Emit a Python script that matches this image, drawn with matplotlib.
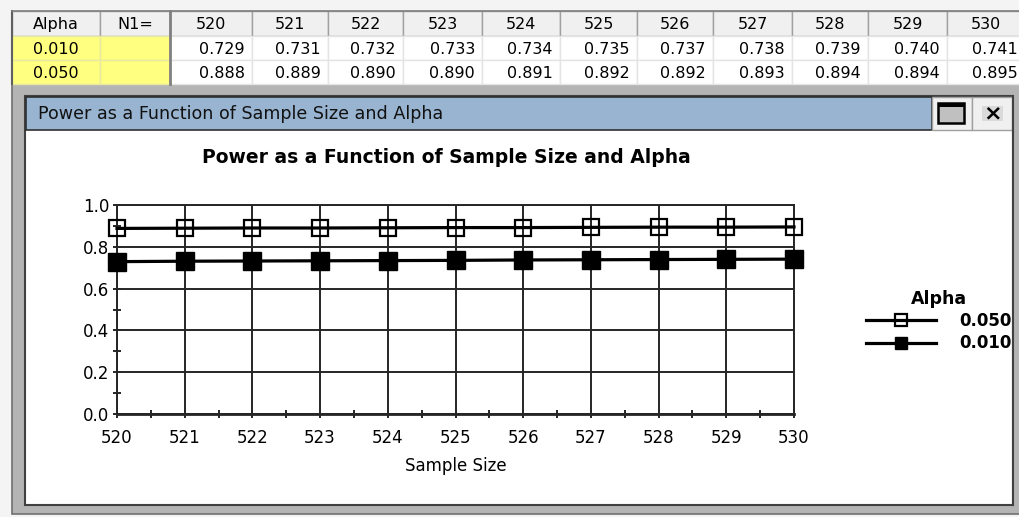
import matplotlib.pyplot as plt
from matplotlib.patches import Rectangle
from matplotlib.ticker import MultipleLocator
import numpy as np

plt.rcParams['font.family'] = ['DejaVu Sans']

sample_size = [520, 521, 522, 523, 524, 525, 526, 527, 528, 529, 530]
power_010 = [0.729, 0.731, 0.732, 0.733, 0.734, 0.735, 0.737, 0.738, 0.739, 0.740, 0.741]
power_050 = [0.888, 0.889, 0.890, 0.890, 0.891, 0.892, 0.892, 0.893, 0.894, 0.894, 0.895]
alpha_labels = ['0.010', '0.050']
y_ticks = [0.0, 0.2, 0.4, 0.6, 0.8, 1.0]
title = 'Power as a Function of Sample Size and Alpha'

W, H = 1019, 517
fig = plt.figure(figsize=(W / 100, H / 100), dpi=100)

# pixel-space background axes for the window chrome and the grid table
bg = fig.add_axes([0, 0, 1, 1])
bg.set_xlim(0, W)
bg.set_ylim(H, 0)
bg.axis('off')


def box(x0, y0, x1, y1, fc, ec='none', lw=1.0, z=1):
    bg.add_patch(Rectangle((x0, y0), x1 - x0, y1 - y0, facecolor=fc,
                           edgecolor=ec, linewidth=lw, zorder=z))


box(0, 0, W, H, '#f4f4f4', z=0)
box(12, 84, W + 5, 514, '#b4b4b4', ec='#707070', lw=1.2)

# table
col_edges = [12, 100, 170, 252, 328, 403, 482, 560, 637, 713, 792, 868, 947, 1025]
row_edges = [11, 36, 60, 84]
headers = ['Alpha', 'N1='] + [str(n) for n in sample_size]
rows = [power_010, power_050]
for j, h in enumerate(headers):
    x0, x1 = col_edges[j], col_edges[j + 1]
    box(x0, row_edges[0], x1, row_edges[1], '#f0f0f0', ec='#a0a0a0', lw=1.0)
    bg.text((x0 + x1) / 2, (row_edges[0] + row_edges[1]) / 2 + 1, h,
            ha='center', va='center', fontsize=11.5, color='black', zorder=3)
for i, (lab, vals) in enumerate(zip(alpha_labels, rows)):
    y0, y1 = row_edges[i + 1], row_edges[i + 2]
    box(col_edges[0], y0, col_edges[1], y1, '#ffff80', ec='#e8e8a0', lw=1.0)
    box(col_edges[1], y0, col_edges[2], y1, '#ffff80', ec='#e8e8a0', lw=1.0)
    bg.text((col_edges[0] + col_edges[1]) / 2, (y0 + y1) / 2 + 1, lab,
            ha='center', va='center', fontsize=11.5, zorder=3)
    for j, v in enumerate(vals):
        x0, x1 = col_edges[j + 2], col_edges[j + 3]
        box(x0, y0, x1, y1, 'white', ec='#e4e4e4', lw=1.0)
        bg.text(x1 - 7, (y0 + y1) / 2 + 1, f'{v:.3f}',
                ha='right', va='center', fontsize=11.5, zorder=3)
bg.plot([170, 170], [11, 84], color='#808080', lw=2, zorder=4)
bg.plot([12, 12], [11, 84], color='#606060', lw=1.5, zorder=4)
bg.plot([12, W], [11, 11], color='#808080', lw=1.2, zorder=4)

# chart window
box(25, 96, 1013, 505, 'white', ec='#404040', lw=1.5, z=2)
box(26, 97, 932, 130, '#99b4d1', ec='#303030', lw=1.2, z=3)
bg.text(38, 114, title, ha='left', va='center', fontsize=12.6, color='#111111', zorder=4)
box(932, 97, 972, 130, '#f0f0f0', ec='#a0a0a0', lw=1.0, z=3)
box(938, 103, 964, 123, '#c0c0c0', ec='black', lw=1.8, z=4)
box(938, 103, 964, 107, 'black', z=5)
box(972, 97, 1012, 130, '#f0f0f0', ec='#a0a0a0', lw=1.0, z=3)
box(982, 106, 1003, 121, '#dadada', z=4)
bg.text(992.5, 113.5, '\u00d7', ha='center', va='center', fontsize=16,
        fontweight='bold', color='black', zorder=5)

fig.text(446 / W, 1 - 158 / H, title, ha='center', va='center',
         fontsize=13.5, fontweight='bold')

# chart
L, R, T, B = 117, 794, 205, 414
ax = fig.add_axes([L / W, 1 - B / H, (R - L) / W, (B - T) / H])
ax.set_facecolor('none')
line050, = ax.plot(sample_size, power_050, color='black', lw=2.3, marker='s',
                   markersize=12, markerfacecolor='none', markeredgewidth=1.6,
                   clip_on=False, zorder=3, label='0.050')
line010, = ax.plot(sample_size, power_010, color='black', lw=2.3, marker='s',
                   markersize=13, markerfacecolor='black', clip_on=False,
                   zorder=3, label='0.010')
ax.set_xlim(sample_size[0], sample_size[-1])
ax.set_ylim(0, 1)
ax.set_xticks(sample_size)
ax.set_yticks(y_ticks)
ax.set_yticklabels([f'{t:.1f}' for t in y_ticks])
ax.xaxis.set_minor_locator(MultipleLocator(0.5))
ax.yaxis.set_minor_locator(MultipleLocator(0.1))
ax.grid(True, which='major', color='#262626', lw=1.4)
ax.tick_params(which='both', direction='inout', length=6, width=1.4,
               color='#262626', labelsize=12)
ax.tick_params(axis='x', pad=8)
ax.tick_params(axis='y', pad=2.5)
for s in ax.spines.values():
    s.set_color('#262626')
    s.set_linewidth(1.4)
ax.spines['bottom'].set_linewidth(2)
ax.set_xlabel('Sample Size', fontsize=12, labelpad=7)

leg = bg.legend(handles=[line050, line010], title='Alpha', loc='upper left',
                bbox_to_anchor=(866, 290), bbox_transform=bg.transData,
                frameon=False, borderpad=0, borderaxespad=0, handlelength=4.2,
                handletextpad=1.4, labelspacing=0.25, markerscale=0.7,
                prop={'weight': 'bold', 'size': 12},
                title_fontproperties={'weight': 'bold', 'size': 12.5})
leg.set_zorder(6)

# window edge hides the clipped legend text
box(1013, 96, W + 5, 505, '#b4b4b4', z=10)
bg.plot([1013, 1013], [96, 505], color='#404040', lw=1.5, zorder=11)

fig.savefig('out.png', dpi=100)
